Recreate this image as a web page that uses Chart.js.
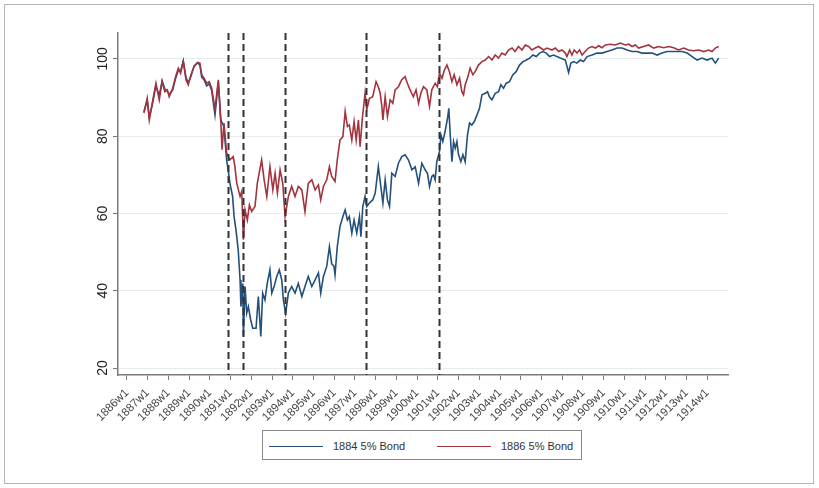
<!DOCTYPE html>
<html>
<head>
<meta charset="utf-8">
<script src="https://cdn.jsdelivr.net/npm/chart.js@4.4.1/dist/chart.umd.min.js"></script>
<style>
    html, body { margin: 0; padding: 0; background: #fff; }
    #wrap { position: relative; width: 819px; height: 488px; overflow: hidden; }
    #frame { position: absolute; left: 4px; top: 4px; width: 808px; height: 478px; border: 1px solid #b5b5b5; }
    #c { position: absolute; left: 0; top: 0; }
    #legend {
        position: absolute; left: 262px; top: 430px; width: 320px; height: 30px;
        border: 1px solid #8a8a8a; box-sizing: border-box; background: #fff;
        font: 11px "Liberation Sans", Arial, sans-serif; color: #333;
    }
    .item { position: absolute; top: 8px; height: 14px; line-height: 14px; }
    .swatch { position: absolute; top: 7px; width: 54px; height: 0; border-top: 1.5px solid; }
    .lbl { position: absolute; left: 64px; white-space: nowrap; }
</style>
</head>
<body>
<div id="wrap">
    <div id="frame"></div>
    <canvas id="c" width="819" height="488"></canvas>
    <div id="legend"></div>
</div>
<script>
// ── data (decimal years, bond prices) ─────────────────────────
const yearTicks = [1886, 1887, 1888, 1889, 1890, 1891, 1892, 1893, 1894, 1895, 1896, 1897, 1898, 1899, 1900,
    1901, 1902, 1903, 1904, 1905, 1906, 1907, 1908, 1909, 1910, 1911, 1912, 1913, 1914];
const priceTicks = [20, 40, 60, 80, 100];
const breakYears = [1890.89, 1891.62, 1893.65, 1897.55, 1901.07];

const t1884 = [
    1886.82, 1886.98, 1887.08, 1887.22, 1887.40, 1887.56, 1887.70, 1887.83, 1887.95, 1888.04,
    1888.21, 1888.35, 1888.48, 1888.59, 1888.72, 1888.85, 1888.96, 1889.09, 1889.24, 1889.41,
    1889.52, 1889.61, 1889.72, 1889.85, 1889.97, 1890.09, 1890.25, 1890.41, 1890.52, 1890.59,
    1890.68, 1890.81, 1890.89, 1890.97, 1891.10, 1891.17, 1891.26, 1891.37, 1891.46, 1891.50,
    1891.59, 1891.62, 1891.70, 1891.78, 1891.86, 1891.97, 1892.07, 1892.23, 1892.34, 1892.46,
    1892.55, 1892.66, 1892.77, 1892.90, 1892.99, 1893.10, 1893.23, 1893.35, 1893.47, 1893.55,
    1893.66, 1893.79, 1893.95, 1894.11, 1894.27, 1894.44, 1894.59, 1894.75, 1894.92, 1895.08,
    1895.24, 1895.35, 1895.48, 1895.64, 1895.77, 1895.88, 1895.99, 1896.04, 1896.15, 1896.28,
    1896.42, 1896.53, 1896.64, 1896.73, 1896.85, 1896.96, 1897.09, 1897.22, 1897.29, 1897.38,
    1897.49, 1897.57, 1897.70, 1897.86, 1897.98, 1898.13, 1898.25, 1898.35, 1898.46, 1898.57,
    1898.67, 1898.78, 1898.94, 1899.10, 1899.26, 1899.42, 1899.58, 1899.75, 1899.91, 1900.07,
    1900.23, 1900.39, 1900.50, 1900.60, 1900.71, 1900.79, 1900.87, 1900.95, 1901.08, 1901.15,
    1901.24, 1901.35, 1901.47, 1901.53, 1901.60, 1901.68, 1901.76, 1901.84, 1901.92, 1902.00,
    1902.11, 1902.21, 1902.32, 1902.43, 1902.53, 1902.64, 1902.76, 1902.89, 1903.01, 1903.13,
    1903.29, 1903.40, 1903.49, 1903.61, 1903.77, 1903.93, 1904.04, 1904.17, 1904.30, 1904.46,
    1904.62, 1904.78, 1904.94, 1905.11, 1905.27, 1905.43, 1905.59, 1905.75, 1905.91, 1906.07,
    1906.23, 1906.39, 1906.58, 1906.83, 1906.91, 1907.15, 1907.31, 1907.42, 1907.55, 1907.71,
    1907.87, 1908.03, 1908.20, 1908.44, 1908.68, 1908.92, 1909.16, 1909.40, 1909.65, 1909.89,
    1910.13, 1910.37, 1910.61, 1910.85, 1911.09, 1911.34, 1911.58, 1911.82, 1912.06, 1912.30,
    1912.54, 1912.78, 1913.03, 1913.27, 1913.51, 1913.75, 1913.99, 1914.23, 1914.39, 1914.55
];
const bond1884 = [
    86.3, 89.2, 85.0, 88.0, 93.0, 90.5, 94.3, 92.2, 91.6, 90.8,
    92.0, 95.0, 97.0, 96.8, 99.5, 95.2, 93.8, 95.5, 98.2, 99.0,
    98.4, 95.2, 94.6, 93.0, 93.6, 91.8, 85.5, 94.0, 84.5, 83.5,
    82.5, 73.9, 71.0, 67.8, 64.4, 59.2, 55.8, 50.6, 42.8, 35.9,
    41.9, 28.2, 41.1, 34.2, 35.9, 32.5, 30.3, 30.3, 38.5, 28.2,
    39.4, 37.6, 41.9, 45.4, 39.4, 41.1, 43.7, 45.4, 42.8, 37.6,
    34.2, 39.4, 41.1, 39.4, 41.9, 38.5, 41.1, 43.7, 41.1, 42.8,
    44.6, 39.4, 43.7, 46.3, 51.4, 47.0, 46.3, 44.1, 51.4, 56.6,
    59.2, 60.9, 58.3, 59.2, 54.9, 58.3, 54.9, 59.2, 54.0, 61.8,
    64.4, 61.8, 62.7, 63.5, 65.3, 72.1, 67.0, 62.7, 68.7, 63.5,
    61.8, 70.4, 69.6, 73.0, 74.7, 75.2, 73.9, 71.3, 72.1, 67.8,
    73.0, 71.3, 70.4, 67.0, 69.6, 70.0, 68.7, 73.4, 76.0, 80.3,
    78.6, 81.2, 84.7, 87.2, 80.3, 73.4, 78.6, 76.9, 78.6, 75.2,
    73.4, 75.2, 73.4, 80.3, 83.4, 82.9, 83.8, 85.5, 87.2, 90.7,
    91.1, 91.5, 90.2, 89.4, 91.1, 91.5, 93.3, 92.4, 93.7, 94.1,
    95.9, 96.7, 98.4, 99.3, 99.7, 100.2, 101.0, 100.6, 101.5, 101.9,
    101.5, 100.6, 101.0, 100.4, 100.2, 99.7, 96.5, 98.9, 99.3, 98.9,
    99.7, 99.3, 100.6, 101.0, 101.5, 101.5, 101.9, 102.3, 102.8, 102.8,
    102.3, 101.9, 101.9, 101.5, 101.5, 101.5, 101.0, 101.5, 101.9, 101.9,
    101.9, 101.9, 101.5, 100.6, 99.7, 100.2, 99.7, 100.2, 98.9, 100.2
];

const t1886 = [
    1886.82, 1886.98, 1887.08, 1887.22, 1887.40, 1887.56, 1887.70, 1887.83, 1887.95, 1888.04,
    1888.21, 1888.35, 1888.48, 1888.59, 1888.72, 1888.85, 1888.96, 1889.09, 1889.24, 1889.41,
    1889.52, 1889.61, 1889.72, 1889.85, 1889.97, 1890.09, 1890.25, 1890.41, 1890.52, 1890.59,
    1890.68, 1890.81, 1890.97, 1891.13, 1891.21, 1891.30, 1891.46, 1891.54, 1891.62, 1891.70,
    1891.81, 1891.91, 1892.02, 1892.18, 1892.29, 1892.50, 1892.62, 1892.75, 1892.90, 1893.04,
    1893.15, 1893.26, 1893.39, 1893.52, 1893.63, 1893.79, 1893.95, 1894.11, 1894.27, 1894.44,
    1894.59, 1894.75, 1894.92, 1895.08, 1895.24, 1895.35, 1895.48, 1895.64, 1895.77, 1895.88,
    1896.04, 1896.15, 1896.28, 1896.42, 1896.53, 1896.64, 1896.73, 1896.85, 1896.96, 1897.06,
    1897.17, 1897.25, 1897.36, 1897.49, 1897.57, 1897.70, 1897.86, 1898.02, 1898.13, 1898.22,
    1898.30, 1898.35, 1898.46, 1898.57, 1898.70, 1898.83, 1898.94, 1899.10, 1899.26, 1899.42,
    1899.53, 1899.66, 1899.82, 1899.95, 1900.07, 1900.18, 1900.31, 1900.47, 1900.60, 1900.71,
    1900.87, 1900.98, 1901.08, 1901.20, 1901.31, 1901.44, 1901.56, 1901.68, 1901.79, 1901.92,
    1902.05, 1902.16, 1902.24, 1902.32, 1902.43, 1902.56, 1902.69, 1902.80, 1902.96, 1903.13,
    1903.29, 1903.45, 1903.61, 1903.77, 1903.93, 1904.09, 1904.25, 1904.41, 1904.58, 1904.73,
    1904.89, 1905.06, 1905.22, 1905.38, 1905.54, 1905.70, 1905.86, 1906.10, 1906.27, 1906.51,
    1906.67, 1906.83, 1906.99, 1907.15, 1907.23, 1907.36, 1907.47, 1907.58, 1907.71, 1907.84,
    1907.96, 1908.11, 1908.27, 1908.44, 1908.60, 1908.76, 1908.92, 1909.08, 1909.32, 1909.56,
    1909.80, 1910.05, 1910.21, 1910.37, 1910.53, 1910.69, 1910.93, 1911.17, 1911.41, 1911.65,
    1911.90, 1912.14, 1912.38, 1912.62, 1912.86, 1913.10, 1913.34, 1913.59, 1913.83, 1914.07,
    1914.23, 1914.39, 1914.55
];
const bond1886 = [
    86.0, 89.8, 84.2, 88.5, 93.7, 89.4, 94.1, 91.5, 92.0, 90.2,
    92.4, 95.4, 97.6, 96.3, 99.3, 94.6, 93.3, 95.9, 98.0, 99.1,
    98.9, 95.9, 95.0, 93.7, 94.1, 92.4, 87.0, 94.6, 85.1, 76.5,
    83.4, 75.6, 73.9, 74.7, 72.1, 67.8, 64.4, 65.7, 53.2, 60.9,
    58.3, 62.2, 60.5, 61.8, 67.8, 73.9, 68.7, 64.4, 72.1, 66.1,
    70.4, 65.3, 71.3, 67.8, 59.2, 64.4, 67.0, 64.4, 67.0, 66.1,
    60.5, 67.8, 68.7, 66.1, 67.4, 63.5, 67.0, 68.7, 72.1, 69.6,
    68.3, 73.9, 79.0, 79.9, 86.4, 82.5, 82.9, 79.0, 83.8, 79.0,
    84.2, 77.3, 84.7, 91.1, 86.8, 89.8, 90.2, 94.1, 92.8, 91.1,
    87.7, 84.2, 90.2, 85.1, 89.4, 88.5, 92.0, 92.8, 94.6, 95.4,
    93.7, 92.0, 90.2, 92.0, 88.5, 91.1, 92.8, 92.0, 87.7, 92.0,
    93.7, 92.8, 96.3, 95.0, 97.0, 98.4, 96.7, 94.1, 95.9, 93.3,
    95.0, 91.5, 90.7, 93.3, 95.0, 97.6, 95.9, 96.7, 98.4, 99.3,
    99.7, 100.6, 99.7, 101.0, 100.2, 101.5, 101.0, 102.3, 102.8, 101.9,
    103.2, 102.3, 103.6, 103.2, 102.3, 102.8, 103.2, 102.3, 102.8, 102.3,
    102.8, 101.9, 102.3, 101.5, 100.6, 102.3, 101.0, 102.3, 101.5, 102.3,
    101.0, 101.9, 102.8, 103.2, 102.8, 103.4, 102.9, 103.6, 103.8, 103.6,
    104.1, 103.6, 103.8, 103.2, 103.6, 102.8, 103.2, 103.6, 102.8, 103.2,
    102.9, 103.2, 102.9, 102.3, 102.8, 102.3, 102.1, 102.3, 101.9, 102.3,
    101.9, 102.8, 103.2
];

const C = {
    blue:  '#24507c',
    red:   '#a3333e',
    grid:  '#e6edf1',
    axis:  '#7a7a7a',
    text:  '#444',
    ytext: '#222',
    dash:  '#333',
};

const series = [
    { label: '1884 5% Bond', t: t1884, v: bond1884, color: C.blue, order: 2 },
    { label: '1886 5% Bond', t: t1886, v: bond1886, color: C.red,  order: 1 },
];

// vertical dashed break lines
const breakLines = {
    id: 'breakLines',
    afterDatasetsDraw(chart) {
        const { ctx, chartArea: a, scales: { x } } = chart;
        ctx.save();
        ctx.strokeStyle = C.dash;
        ctx.lineWidth = 2;
        ctx.setLineDash([7, 4]);
        breakYears.forEach(yr => {
            const px = Math.round(x.getPixelForValue(yr)) + 0.5;
            ctx.beginPath();
            ctx.moveTo(px, a.top);
            ctx.lineTo(px, a.bottom);
            ctx.stroke();
        });
        ctx.restore();
    }
};

// y tick labels, rotated like the original
const yLabels = {
    id: 'yLabels',
    afterDraw(chart) {
        const { ctx, scales: { y } } = chart;
        ctx.save();
        ctx.font = '14px "Liberation Sans", Arial, sans-serif';
        ctx.fillStyle = C.ytext;
        ctx.textAlign = 'center';
        ctx.textBaseline = 'middle';
        y.ticks.forEach(t => {
            ctx.save();
            ctx.translate(y.right - 15, y.getPixelForValue(t.value));
            ctx.rotate(-Math.PI / 2);
            ctx.fillText(String(t.value), 0, 0);
            ctx.restore();
        });
        ctx.restore();
    }
};

new Chart(document.getElementById('c'), {
    type: 'line',
    data: {
        datasets: series.map(s => ({
            label: s.label,
            data: s.t.map((t, i) => ({ x: t, y: s.v[i] })),
            borderColor: s.color,
            borderWidth: 1.6,
            pointRadius: 0,
            tension: 0,
            fill: false,
            order: s.order,
        }))
    },
    options: {
        responsive: false,
        animation: false,
        devicePixelRatio: 1,
        layout: { padding: { left: 68, right: 91, top: 33, bottom: 53 } },
        plugins: { legend: { display: false }, tooltip: { enabled: false } },
        scales: {
            x: {
                type: 'linear', min: 1885.57, max: 1915.0,
                afterBuildTicks: s => { s.ticks = yearTicks.map(v => ({ value: v })); },
                afterFit: s => { s.height = 60; },
                grid: { drawOnChartArea: false, drawTicks: true, tickLength: 5, color: C.axis, lineWidth: 1 },
                border: { display: true, color: C.axis, width: 1.5 },
                ticks: {
                    minRotation: 45, maxRotation: 45, autoSkip: false, padding: 6,
                    color: C.text, font: { family: '"Liberation Sans", Arial, sans-serif', size: 11.5 },
                    callback: v => v + 'w1',
                },
            },
            y: {
                type: 'linear', min: 18.2, max: 106.7,
                afterBuildTicks: s => { s.ticks = priceTicks.map(v => ({ value: v })); },
                afterFit: s => { s.width = 50; },
                grid: { color: C.grid, lineWidth: 1, drawTicks: true, tickLength: 5, tickColor: C.axis },
                border: { display: true, color: C.axis, width: 1.5 },
                ticks: { display: false },
            },
        },
    },
    plugins: [breakLines, yLabels],
});

// legend box
const lg = document.getElementById('legend');
const slots = [6, 174];
series.forEach((s, i) => {
    const it = document.createElement('div');
    it.className = 'item';
    it.style.left = slots[i] + 'px';
    it.innerHTML = `<div class="swatch" style="border-color:${s.color}"></div><span class="lbl">${s.label}</span>`;
    lg.appendChild(it);
});
</script>
</body>
</html>
